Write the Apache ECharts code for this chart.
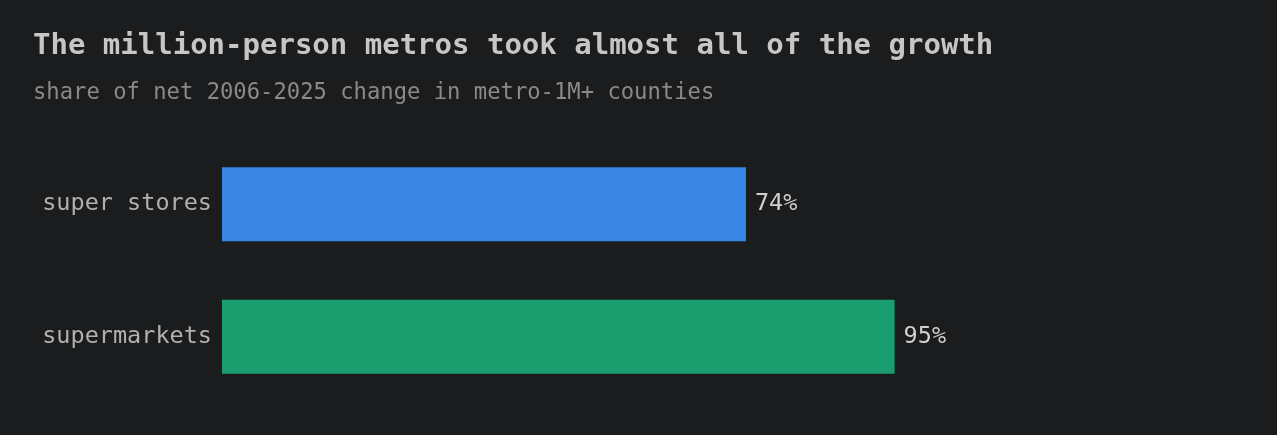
<!DOCTYPE html>
<html>
<head>
<meta charset="utf-8">
<script src="https://cdn.jsdelivr.net/npm/echarts@6/dist/echarts.min.js"></script>
<style>
  html, body { margin: 0; padding: 0; background: #1b1c1e; }
  #chart { width: 1277px; height: 435px; }
</style>
</head>
<body>
<div id="chart"></div>
<script>
// 数据
var categories = ['super stores', 'supermarkets'];
var shares = [74, 95];
var barColors = ['#3a86e5', '#1a9e6f'];

var mono = '"DejaVu Sans Mono", monospace';

var myChart = echarts.init(document.getElementById('chart'));

var option = {
    backgroundColor: '#1b1c1e',
    animation: false,
    title: [{
        text: 'The million-person metros took almost all of the growth',
        left: 28,
        top: 26,
        textStyle: {
            fontFamily: mono,
            fontWeight: 'bold',
            fontSize: 29,
            lineHeight: 30,
            color: '#c6c6c6'
        }
    }, {
        text: 'share of net 2006-2025 change in metro-1M+ counties',
        left: 28,
        top: 76,
        textStyle: {
            fontFamily: mono,
            fontWeight: 'normal',
            fontSize: 22.2,
            lineHeight: 24,
            color: '#8a8a8a'
        }
    }],
    grid: {
        left: 222,
        right: 347,
        top: 138,
        bottom: 32,
        containLabel: false
    },
    xAxis: {
        type: 'value',
        min: 0,
        max: 100,
        show: false
    },
    yAxis: {
        type: 'category',
        inverse: true,
        data: categories,
        axisLine: { show: false },
        axisTick: { show: false },
        axisLabel: {
            margin: 10,
            fontFamily: mono,
            fontSize: 23.5,
            color: '#b0b0b0'
        }
    },
    series: [{
        type: 'bar',
        barWidth: 74,
        data: shares.map(function (v, i) {
            return { value: v, itemStyle: { color: barColors[i] } };
        }),
        label: {
            show: true,
            position: 'right',
            distance: 9,
            fontFamily: mono,
            fontSize: 23.5,
            color: '#d0d0d0',
            formatter: function (p) { return p.value + '%'; }
        }
    }]
};

myChart.setOption(option);
</script>
</body>
</html>
